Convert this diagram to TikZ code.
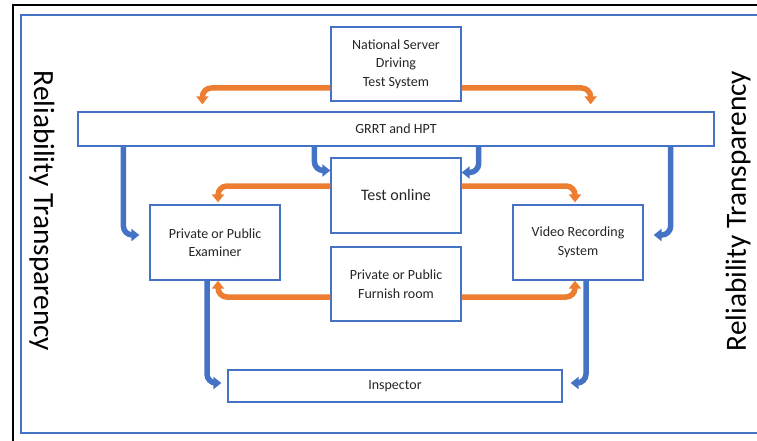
\documentclass[tikz,border=0pt]{standalone}
\usepackage{fontspec}
\setmainfont{Carlito}
\usetikzlibrary{arrows.meta}
\definecolor{boxblue}{HTML}{4472C4}
\definecolor{arrorange}{HTML}{ED7D31}
\definecolor{txtgray}{HTML}{262626}
\begin{document}
\begin{tikzpicture}[x=1pt,y=-1pt,
    box/.style={draw=boxblue,line width=1.3pt,fill=white,text=txtgray,align=center,
      font=\fontsize{14}{18.5}\selectfont,inner sep=0pt},
    oarrow/.style={draw=arrorange,line width=5.5pt,rounded corners=9pt,
      -{Triangle[width=12pt,length=8pt]}},
    barrow/.style={draw=boxblue,line width=5.5pt,rounded corners=9pt,
      -{Triangle[width=12pt,length=8pt]}},
    side/.style={font=\fontsize{29.3}{31}\selectfont,text=black}]

    \useasboundingbox (0,0) rectangle (757,441);
    \clip (0,0) rectangle (757,441);

    % frames
    \draw[line width=2pt] (13,460) -- (13,5) -- (780,5);
    \draw[boxblue,line width=1.5pt] (21,15) rectangle (780,433);

    \node[box,minimum width=130pt,minimum height=74pt] (nat) at (396,64)
        {National Server\\Driving\\Test System};
    \node[box,minimum width=636pt,minimum height=34pt] (grrt) at (396,129) {GRRT and HPT};
    \node[box,minimum width=130pt,minimum height=75pt,font=\fontsize{16}{18}\selectfont] (online) at (396,195.5)
        {Test online};
    \node[box,minimum width=130pt,minimum height=75pt] (exam) at (215,242.5)
        {Private or Public\\Examiner};
    \node[box,minimum width=130pt,minimum height=75pt] (video) at (578,242.5)
        {Video Recording\\System};
    \node[box,minimum width=130pt,minimum height=74pt] (furn) at (396,284)
        {Private or Public\\Furnish room};
    \node[box,minimum width=334pt,minimum height=32pt] (insp) at (395,386) {Inspector};

    \node[side,rotate=-90] (lefttxt) at (42,211) {Reliability Transparency};
    \node[side,rotate=90] (righttxt) at (738,211) {Reliability Transparency};

    % orange arrows
    \draw[oarrow,shorten >=7pt] ([yshift=-24pt]nat.west) -| ([xshift=125pt]grrt.north west);
    \draw[oarrow,shorten >=7pt] ([yshift=-24pt]nat.east) -| ([xshift=-124pt]grrt.north east);
    \draw[oarrow,shorten >=2pt] ([yshift=9.5pt]online.west) -| ([xshift=3pt]exam.north);
    \draw[oarrow,shorten >=2pt] ([yshift=9.5pt]online.east) -| ([xshift=-3pt]video.north);
    \draw[oarrow] ([yshift=-13pt]furn.west) -| ([xshift=3pt]exam.south);
    \draw[oarrow] ([yshift=-13pt]furn.east) -| ([xshift=-3pt]video.south);

    % blue arrows
    \draw[barrow,shorten >=10pt] ([xshift=46pt]grrt.south west) |- ([yshift=7.5pt]exam.west);
    \draw[barrow] ([xshift=237pt]grrt.south west) |- ([yshift=25pt]online.west);
    \draw[barrow] ([xshift=-236pt]grrt.south east) |- ([yshift=23pt]online.east);
    \draw[barrow,shorten >=10pt] ([xshift=-44pt]grrt.south east) |- ([yshift=7.5pt]video.east);
    \draw[barrow,shorten >=6pt] ([xshift=-8pt]exam.south) |- ([yshift=3pt]insp.west);
    \draw[barrow,shorten >=8pt] ([xshift=8pt]video.south) |- ([yshift=3pt]insp.east);
\end{tikzpicture}
\end{document}
